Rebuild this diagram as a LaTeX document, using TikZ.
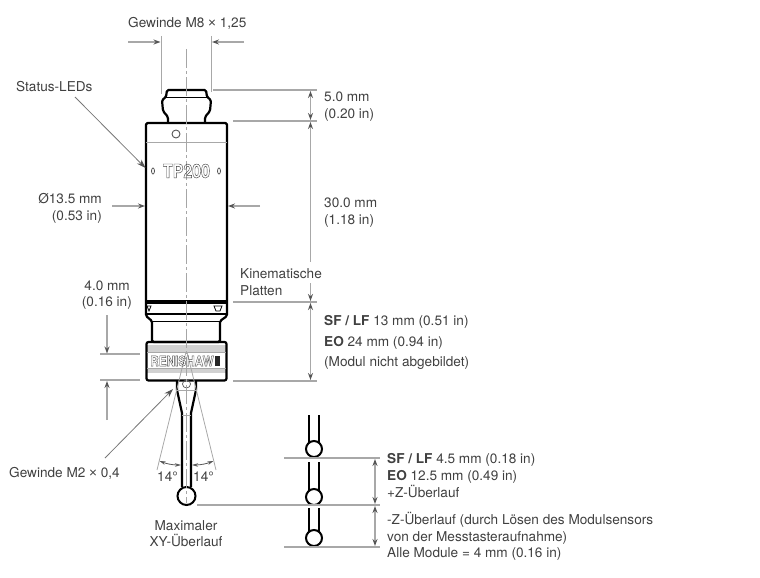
\documentclass[tikz,border=0pt]{standalone}
\usepackage{fontspec}
\setmainfont{TeX Gyre Heros}
\newfontfamily\crossfont{Liberation Sans}
\usetikzlibrary{arrows.meta}
\definecolor{dimgray}{HTML}{A8A8A8}
\definecolor{tipgray}{HTML}{555555}
\definecolor{txtgray}{HTML}{404040}
\newcommand{\outlined}[1]{\special{pdf:code 1 Tr 0.45 w}#1\special{pdf:code 0 Tr}}
\tikzset{
  lbl/.style={anchor=base west,inner sep=0pt,text=txtgray,font=\fontsize{13.6}{15}\selectfont},
  lblr/.style={lbl,anchor=base east},
  lblc/.style={lbl,anchor=base},
  outline/.style={line width=2.2pt,black,line join=round},
  fine/.style={line width=0.8pt,dimgray},
  dimline/.style={line width=1.2pt,dimgray},
  dimarrow/.style={dimline,-{Stealth[length=7pt,width=5pt,color=tipgray]}},
  dimboth/.style={dimline,{Stealth[length=7pt,width=5pt,color=tipgray]}-{Stealth[length=7pt,width=5pt,color=tipgray]}},
  leader/.style={line width=0.8pt,tipgray!80,-{Stealth[length=9pt,width=6pt,color=tipgray]}},
  anglearc/.style={line width=0.8pt,tipgray,{Stealth[length=6pt,width=3.5pt,color=tipgray]}-{Stealth[length=6pt,width=3.5pt,color=tipgray]}},
  stylusball/.style={line width=2pt,black,fill=white}
}
\begin{document}
\begin{tikzpicture}[x=1pt,y=-1pt]
  \useasboundingbox (0,0) rectangle (760,578);
  % collar fill
  \fill[black!18] (147,345) rectangle (226,352);
  \fill[black!18] (147,368) rectangle (226,373);
  % top thread
  \draw[outline,rounded corners=1.5pt] (168,123) -- (168,117) -- (163,111) -- (162,100) -- (166,97) -- (167,90)
    -- (206,90) -- (207,97) -- (211,100) -- (210,111) -- (205,117) -- (205,123);
  \draw[line width=0.9pt] (166,97) -- (207,97);
  % main body
  \draw[outline,rounded corners=1.5pt] (146,316) -- (146,123) -- (227,123) -- (227,316) -- (220,321)
    -- (220,342) -- (152,342) -- (152,321) -- cycle;
  \draw[fine] (146,142) -- (227,142);
  \draw[line width=3.2pt] (146,302) -- (227,302);
  \draw[line width=1.2pt] (146,314) -- (227,314);
  \draw[line width=0.8pt] (152,321) -- (220,321);
  \draw[line width=0.9pt,tipgray] (176,134) circle (4);
  \draw[line width=0.8pt,tipgray] (153,171) ellipse (1.5 and 3);
  \draw[line width=0.8pt,tipgray] (219,171) ellipse (1.5 and 3);
  \draw[line width=0.8pt] (147,306) -- (151,306) -- (149,311) -- cycle;
  \draw[line width=0.8pt] (214,306) -- (222,306) -- (220,311) -- (216,311) -- cycle;
  % collar
  \draw[outline,rounded corners=2pt] (146.5,342) rectangle (226.5,380.5);
  \draw[fine] (147,352) -- (226,352);
  \draw[fine] (147,368) -- (226,368);
  \fill[black!85] (215,356) rectangle (220,366);
  % stylus
  \draw[outline] (177,381) -- (177,390) -- (182,413) -- (182,487);
  \draw[outline] (196,381) -- (196,390) -- (191,413) -- (191,487);
  \draw[fine] (177,390) -- (196,390);
  \draw[fine] (182,415) -- (191,415);
  \draw[line width=0.7pt,tipgray] (186.5,384) circle (4);
  \draw[stylusball] (186.5,496) circle (9);
  % centre line
  \draw[line width=1.1pt,black!35,dash pattern=on 19pt off 3pt on 3pt off 3pt] (186.5,49) -- (186.5,503);
  % cone lines
  \draw[fine] (186,352) -- (157,470);
  \draw[fine] (187,352) -- (216,470);
  \draw[anglearc] (159.5,461) .. controls (166,463.5) and (172,465) .. (181,465);
  \draw[anglearc] (213.5,461) .. controls (207,463.5) and (201,465) .. (192,465);
  % probe text
  \node[anchor=center,inner sep=0pt,text=black!75,font=\fontsize{19}{19}\bfseries\selectfont] (tplabel) at (186.5,171)
    {\scalebox{.84}[1]{\outlined{TP200}}};
  \node[anchor=center,inner sep=0pt,text=black!70,font=\fontsize{14}{14}\bfseries\selectfont] (renlabel) at (182,361)
    {\scalebox{.84}[1]{\outlined{RENISHAW}}};
  % dimension lines, top and right
  \draw[fine] (161,36) -- (161,94);
  \draw[fine] (211.5,36) -- (211.5,92);
  \draw[dimarrow] (128,42) -- (160.5,42);
  \draw[dimarrow] (244,42) -- (212,42);
  \draw[dimline] (213,90) -- (317,90);
  \draw[dimline] (233,121) -- (317,121);
  \draw[dimline] (233,302) -- (317,302);
  \draw[dimline] (233,381) -- (317,381);
  \draw[dimboth] (310.5,91) -- (310.5,120);
  \draw[dimline,{Stealth[length=7pt,width=5pt,color=tipgray]}-] (310.5,122) -- (310.5,262);
  \draw[dimarrow] (310.5,283) -- (310.5,301);
  \draw[dimboth] (310.5,303) -- (310.5,380);
  % dimension lines, left
  \draw[dimarrow] (112,206) -- (145,206);
  \draw[dimarrow] (260,206) -- (228,206);
  \draw[dimline] (100,354) -- (140,354);
  \draw[dimline] (100,380) -- (140,380);
  \draw[dimarrow] (107,315) -- (107,353.5);
  \draw[dimarrow] (107,420) -- (107,381);
  \draw[leader] (75,97) -- (145.5,168);
  \draw[leader] (105,458) -- (173,389);
  % overtravel
  \foreach \ytop/\yball in {415/449,462/497,508/538}{
    \draw[line width=1.7pt] (309,\ytop) -- (309,\yball);
    \draw[line width=1.7pt] (319,\ytop) -- (319,\yball);
    \draw[stylusball] (314,\yball) circle (8);
  }
  \draw[dimline] (284,458) -- (380,458);
  \draw[dimline] (197,505) -- (380,505);
  \draw[dimline] (284,547) -- (380,547);
  \draw[dimboth] (375,459) -- (375,504);
  \draw[dimboth] (375,506) -- (375,546);
  % labels
  \node[lbl] (threadtop) at (128,28) {Gewinde M8 {\crossfont ×} 1,25};
  \node[lbl] (leds) at (16,92) {Status-LEDs};
  \node[lbl] (five) at (324,101) {5.0 mm};
  \node[lbl] (fivein) at (324,118) {(0.20 in)};
  \node[lbl] (thirty) at (324,207) {30.0 mm};
  \node[lbl] (thirtyin) at (324,224) {(1.18 in)};
  \node[lblr] (dia) at (102,203) {Ø13.5 mm};
  \node[lblr] (diain) at (102,220) {(0.53 in)};
  \node[lbl] (kin) at (240,278) {Kinematische};
  \node[lbl] (plat) at (240,295) {Platten};
  \node[lblr] (four) at (130,290) {4.0 mm};
  \node[lblr] (fourin) at (132,306) {(0.16 in)};
  \node[lbl] (sflf) at (324,325) {\textbf{SF / LF} 13 mm (0.51 in)};
  \node[lbl] (eo) at (324,346) {\textbf{EO} 24 mm (0.94 in)};
  \node[lbl] (modul) at (324,366) {(Modul nicht abgebildet)};
  \node[lbl] (threadlow) at (9,477) {Gewinde M2 {\crossfont ×} 0,4};
  \node[lbl] (angleleft) at (157,481) {14°};
  \node[lbl] (angleright) at (193,481) {14°};
  \node[lblc] (maxa) at (186,530) {Maximaler};
  \node[lblc] (maxb) at (186,546) {XY-Überlauf};
  \node[lbl] (sfz) at (387,463) {\textbf{SF / LF} 4.5 mm (0.18 in)};
  \node[lbl] (eoz) at (387,480) {\textbf{EO} 12.5 mm (0.49 in)};
  \node[lbl] (plusz) at (387,497) {+Z-Überlauf};
  \node[lbl] (minusz) at (387,524) {-Z-Überlauf (durch Lösen des Modulsensors};
  \node[lbl] (minuszb) at (387,541) {von der Messtasteraufnahme)};
  \node[lbl] (allmod) at (387,557) {Alle Module = 4 mm (0.16 in)};
\end{tikzpicture}
\end{document}
